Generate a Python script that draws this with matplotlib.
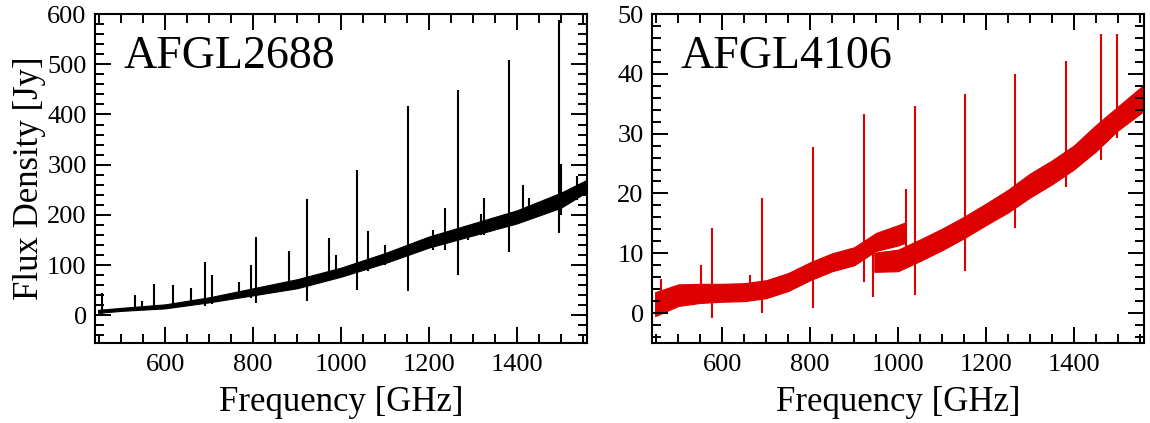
import matplotlib.pyplot as plt
from matplotlib.ticker import MultipleLocator

plt.rcParams['font.family'] = ['Liberation Serif', 'DejaVu Serif']

# AFGL2688 continuum (centre and half-width of the noise band) [GHz, Jy]
afgl2688_freq = [447, 500, 600, 700, 800, 900, 1000, 1100, 1200, 1300, 1400, 1500, 1560]
afgl2688_cont = [8, 12, 18, 31, 47, 63, 86, 114, 146, 171, 196, 229, 258]
afgl2688_noise = [3, 3, 4, 5, 7, 9, 9, 10, 11, 12, 13, 15, 12]

# AFGL2688 lines: centre, peak, bottom of the feature
afgl2688_line_freq = [457, 530, 548, 575, 618, 659, 690, 707, 768, 795, 806, 882, 922,
                      973, 988, 1036, 1061, 1100, 1152, 1209, 1236, 1289, 1319, 1267,
                      1325, 1382, 1414, 1427, 1497, 1502, 1537]
afgl2688_line_peak = [45, 41, 28, 63, 60, 55, 107, 81, 67, 100, 156, 128, 231,
                      155, 121, 290, 168, 141, 416, 170, 213, 175, 201, 448,
                      233, 509, 260, 233, 588, 301, 277]
afgl2688_line_dip = [-2, 10, 14, 10, 14, 20, 18, 22, 35, 35, 25, 50, 28,
                     68, 72, 50, 88, 100, 49, 130, 130, 150, 160, 81,
                     160, 126, 190, 195, 165, 200, 230]

# AFGL4106: SLW and SSW bands overlap near 1000 GHz
afgl4106_slw_freq = [447, 500, 550, 600, 650, 700, 750, 800, 850, 900, 950, 1000, 1018]
afgl4106_slw_cont = [1.5, 3.0, 3.3, 3.4, 3.5, 4.0, 5.2, 7.0, 8.5, 9.5, 11.9, 13.0, 13.5]
afgl4106_slw_noise = [2.0, 1.8, 1.6, 1.5, 1.5, 1.5, 1.5, 1.5, 1.5, 1.5, 1.5, 1.7, 1.7]
afgl4106_ssw_freq = [946, 1000, 1050, 1100, 1150, 1200, 1250, 1300, 1350, 1400, 1450, 1500, 1560]
afgl4106_ssw_cont = [8.5, 8.8, 10.5, 12.3, 14.3, 16.5, 18.7, 21.3, 23.5, 26.0, 29.2, 32.5, 36.0]
afgl4106_ssw_noise = [1.6, 1.8, 1.8, 1.8, 1.8, 1.8, 1.9, 2.0, 2.0, 2.0, 2.2, 2.0, 2.2]

afgl4106_line_freq = [461, 552, 576, 662, 691, 806, 922, 944, 1017, 1038, 1153, 1267, 1382, 1462, 1498]
afgl4106_line_peak = [5.7, 8.0, 14.3, 6.3, 19.3, 27.8, 33.2, 12.0, 20.7, 34.7, 36.6, 40.0, 42.2, 46.6, 46.7]
afgl4106_line_dip = [0.5, 2.0, -0.9, 2.0, 0.0, 0.8, 5.2, 2.7, 11.0, 3.0, 7.0, 14.3, 21.0, 25.6, 29.3]

RED = '#dd0000'


def band(ax, freq, cont, noise, color):
    lo = [c - n for c, n in zip(cont, noise)]
    hi = [c + n for c, n in zip(cont, noise)]
    ax.fill_between(freq, lo, hi, color=color, lw=0.8, edgecolor=color)


def style_axes(ax, ymin, ymax, ymajor, yminor):
    ax.set_xlim(440, 1560)
    ax.set_ylim(ymin, ymax)
    ax.xaxis.set_major_locator(MultipleLocator(200))
    ax.xaxis.set_minor_locator(MultipleLocator(50))
    ax.yaxis.set_major_locator(MultipleLocator(ymajor))
    ax.yaxis.set_minor_locator(MultipleLocator(yminor))
    ax.tick_params(which='both', direction='in', top=True, right=True, width=1.4, labelsize=19)
    ax.tick_params(which='major', length=11.5)
    ax.tick_params(which='minor', length=6.5)
    ax.tick_params(axis='x', pad=8)
    ax.tick_params(axis='y', pad=6)
    for s in ax.spines.values():
        s.set_linewidth(1.5)
    ax.set_xlabel('Frequency [GHz]', fontsize=25, labelpad=7)


fig = plt.figure(figsize=(11.5, 4.23), dpi=100)
ax1 = fig.add_axes([0.0826, 0.1891, 0.4278, 0.7778])
ax2 = fig.add_axes([0.5670, 0.1891, 0.4278, 0.7778])

# AFGL2688
band(ax1, afgl2688_freq, afgl2688_cont, afgl2688_noise, 'black')
ax1.vlines(afgl2688_line_freq, afgl2688_line_dip, afgl2688_line_peak, color='black', lw=1.5)
style_axes(ax1, -55, 600, 100, 20)
ax1.set_ylabel('Flux Density [Jy]', fontsize=25)
ax1.yaxis.set_label_coords(-0.10, 0.5)
ax1.text(0.057, 0.836, 'AFGL2688', transform=ax1.transAxes, fontsize=33, va='baseline')

# AFGL4106
band(ax2, afgl4106_slw_freq, afgl4106_slw_cont, afgl4106_slw_noise, RED)
band(ax2, afgl4106_ssw_freq, afgl4106_ssw_cont, afgl4106_ssw_noise, RED)
ax2.vlines(afgl4106_line_freq, afgl4106_line_dip, afgl4106_line_peak, color=RED, lw=1.5)
style_axes(ax2, -5, 50, 10, 2)
ax2.text(0.057, 0.836, 'AFGL4106', transform=ax2.transAxes, fontsize=33, va='baseline')

fig.savefig('out.png', dpi=100)
